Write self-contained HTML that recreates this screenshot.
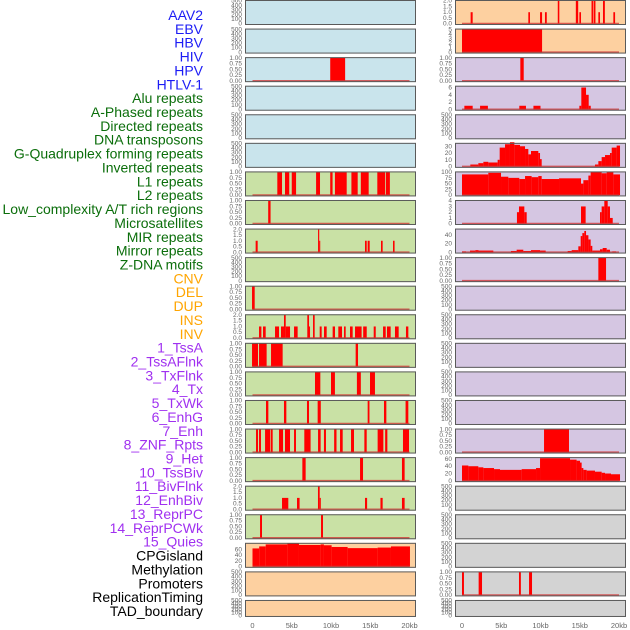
<!DOCTYPE html>
<html><head><meta charset="utf-8"><style>
html,body{margin:0;padding:0;background:#fff;}
svg{display:block;font-family:"Liberation Sans",sans-serif;}
</style></head><body>
<svg id="chart" width="630" height="630" viewBox="0 0 630 630" xmlns="http://www.w3.org/2000/svg"></svg>
<script>
// ---- labels ----
const labelNames = ["AAV2","EBV","HBV","HIV","HPV","HTLV-1","Alu repeats","A-Phased repeats","Directed repeats","DNA transposons","G-Quadruplex forming repeats","Inverted repeats","L1 repeats","L2 repeats","Low_complexity A/T rich regions","Microsatellites","MIR repeats","Mirror repeats","Z-DNA motifs","CNV","DEL","DUP","INS","INV","1_TssA","2_TssAFlnk","3_TxFlnk","4_Tx","5_TxWk","6_EnhG","7_Enh","8_ZNF_Rpts","9_Het","10_TssBiv","11_BivFlnk","12_EnhBiv","13_ReprPC","14_ReprPCWk","15_Quies","CPGisland","Methylation","Promoters","ReplicationTiming","TAD_boundary"];
const labelGroups = [6,13,5,15,5];
const groupColors = ["#1c1cf5","#0b6e0b","#ffa500","#a030f0","#000000"];
// ---- x axis ----
const xTicks = [0,5,10,15,20];
const xTickLabels = ["0","5kb","10kb","15kb","20kb"];
// ---- panel data: [startKb, endKb, value] ----
const dL3 = [[9.9,11.8,1]];
const dL7 = [[3.16,3.76,1],[4.14,4.68,1],[5.0,5.55,1],[8.1,8.6,1],[9.9,10.2,1],[10.5,12.0,1],[12.6,13.4,1],[13.8,14.8,1],[15.9,16.9,1],[17.0,17.5,1]];
const dL8 = [[2.0,2.3,1]];
const dL9 = [[0.4,0.66,1],[8.35,8.5,2],[8.5,8.62,1],[14.33,14.55,1],[14.67,14.93,1],[16.37,16.58,1],[17.9,18.1,1]];
const dL11 = [[-0.06,0.28,1]];
const dL12 = [[0.83,1.13,1],[1.34,1.68,1],[2.87,3.38,1],[3.63,4.01,1],[4.01,4.23,2],[4.23,4.78,1],[5.29,5.75,1],[6.98,7.2,2],[7.2,7.32,1],[7.71,7.92,2],[8.56,8.81,1],[9.11,9.45,1],[10.21,10.51,1],[10.93,11.4,1],[11.66,11.87,1],[12.42,12.76,1],[13.06,13.9,1],[14.1,14.55,1],[15.44,15.7,1],[16.63,16.97,1],[17.13,17.6,1],[18.15,18.62,1],[19.55,19.85,1]];
const dL13 = [[-0.06,0.7,1],[0.83,1.8,1],[2.36,3.84,1],[13.14,13.44,1]];
const dL14 = [[7.96,8.64,1],[10.0,10.5,1],[13.3,13.8,1],[14.97,15.6,1]];
const dL15 = [[1.72,2.02,1],[4.01,4.31,1],[6.94,7.2,1],[8.3,8.7,1],[14.67,14.9,1],[16.75,17.05,1],[19.5,19.85,1]];
const dL16 = [[0.45,0.7,1],[0.83,1.08,1],[1.6,2.23,1],[2.31,2.57,1],[3.38,3.89,1],[4.14,4.78,1],[5.29,5.54,1],[6.6,7.4,1],[8.35,8.68,1],[9.1,9.36,1],[10.4,10.7,1],[11.15,11.49,1],[12.55,12.93,1],[14.25,14.55,1],[15.94,16.67,1],[16.9,17.18,1],[19.17,19.94,1]];
const dL17 = [[6.35,6.77,1],[13.7,14.08,1],[19.04,19.38,1]];
const dL18 = [[3.76,4.56,1],[5.67,6.0,1],[8.34,8.56,2],[8.56,8.7,1],[14.33,14.6,1],[16.3,16.58,1],[19.04,19.38,1]];
const dL19 = [[0.96,1.21,1],[8.73,8.98,1]];
const dL20 = [[0,0.85,63],[0.85,1.68,70],[1.68,4.44,77],[4.44,5.92,80],[5.92,8.68,75],[8.68,9.1,77],[9.1,10.08,74],[10.08,12.12,68],[12.12,15.94,64],[15.94,17.64,66],[17.64,20.06,70]];
const dR1 = [[1.1,1.36,1],[8.45,8.66,1],[9.94,10.2,1],[10.57,10.8,1],[12.2,12.4,2],[14.5,14.8,2],[14.95,15.16,1],[16.5,16.7,2],[16.77,17.0,2],[17.37,17.58,1],[17.96,18.2,2],[19.28,19.5,1]];
const dR2 = [[0,10.2,5]];
const dR3 = [[7.43,7.86,1]];
const dR4 = [[0.3,1.36,1],[2.3,3.3,1],[7.3,8.15,1],[9.1,10.0,1],[14.95,15.2,1],[15.2,15.8,6],[15.8,16.14,4],[16.14,16.4,1]];
const dR6 = [[1.06,2.08,3],[2.08,2.72,5],[2.72,3.35,7],[3.35,4.54,6],[4.54,4.8,10],[4.8,5.48,28],[5.48,6.11,33],[6.11,6.67,36],[6.67,7.39,32],[7.39,8.03,30],[8.03,8.45,26],[8.45,8.79,18],[8.79,9.72,23],[9.72,9.94,20],[9.94,10.15,11],[16.94,17.37,3],[17.37,17.79,8],[17.79,18.22,14],[18.22,18.85,17],[18.85,19.07,20],[19.07,19.7,28],[19.7,20.13,31]];
const dR7 = [[0,3.35,90],[3.35,4.97,97],[4.97,5.9,80],[5.9,7.3,75],[7.3,8.03,70],[8.03,8.87,83],[8.87,9.72,78],[9.72,10.15,83],[10.15,12.36,70],[12.36,15.16,73],[15.16,15.46,50],[15.46,16.1,65],[16.1,16.39,85],[16.39,17.79,100],[17.79,18.43,95],[18.43,19.28,100],[19.28,20.13,90]];
const dR8 = [[7.0,7.26,2],[7.26,7.94,3],[7.94,8.24,2],[15.16,15.75,3],[17.58,17.79,2],[17.79,18.13,3],[18.13,18.56,4],[18.56,18.85,3],[18.85,19.2,1]];
const dR9 = [[0,0.51,2],[1.02,1.7,4],[1.7,2.1,5],[2.1,3.99,4],[6.24,6.96,3],[6.96,7.81,6],[7.81,8.79,3],[8.79,9.94,5],[9.94,10.66,4],[13.46,13.97,3],[13.97,14.82,5],[14.82,15.12,14],[15.12,15.33,38],[15.33,15.58,45],[15.58,15.8,50],[15.8,16.1,40],[16.1,16.39,30],[16.39,16.6,15],[16.6,17.58,4],[17.58,17.92,7],[17.92,18.43,10],[18.43,18.85,6],[19.15,19.62,2]];
const dR10 = [[17.37,18.35,1]];
const dR16 = [[10.45,13.63,1]];
const dR17 = [[0,0.81,42],[0.81,2.08,40],[2.08,2.72,37],[2.72,4.08,35],[4.08,4.84,32],[4.84,7.6,30],[7.6,9.43,32],[9.43,9.94,35],[9.94,13.76,62],[13.76,14.6,58],[14.6,15.03,55],[15.03,15.24,50],[15.24,15.46,35],[15.46,15.88,30],[15.88,16.94,28],[16.94,17.79,25],[17.79,18.22,22],[18.22,18.98,20],[18.98,20.13,18]];
const dR21 = [[0,0.25,1],[2.12,2.55,1],[7.26,7.5,1],[8.54,8.92,1]];
// tick label sets
const tEmpty = ["0","100","200","300","400","500"];
const t01 = ["0.00","0.25","0.50","0.75","1.00"];
const t02 = ["0.0","0.5","1.0","1.5","2.0"];
// panels: [data, ymax, tickVals, tickLabels, bg]
const B="#c9e4ec",G="#c9e1a5",O="#fdd0a0",P="#d5c6e2",Y="#d3d3d3";
const E=null;
const leftPanels = [
 [E,500,null,tEmpty,B],[E,500,null,tEmpty,B],[dL3,1,null,t01,B],[E,500,null,tEmpty,B],[E,500,null,tEmpty,B],[E,500,null,tEmpty,B],
 [dL7,1,null,t01,G],[dL8,1,null,t01,G],[dL9,2,null,t02,G],[E,500,null,tEmpty,G],[dL11,1,null,t01,G],[dL12,2,null,t02,G],[dL13,1,null,t01,G],[dL14,1,null,t01,G],[dL15,1,null,t01,G],[dL16,1,null,t01,G],[dL17,1,null,t01,G],[dL18,2,null,t02,G],[dL19,1,null,t01,G],
 [dL20,80,[0,20,40,60],["0","20","40","60"],O],[E,500,null,tEmpty,O],[E,500,null,tEmpty,O]
];
const rightPanels = [
 [dR1,2,null,t02,O],[dR2,5,[0,1,2,3,4,5],["0","1","2","3","4","5"],O],
 [dR3,1,null,t01,P],[dR4,6.3,[0,2,4,6],["0","2","4","6"],P],[E,500,null,tEmpty,P],[dR6,34,[0,10,20,30],["0","10","20","30"],P],[dR7,100,[0,25,50,75,100],["0","25","50","75","100"],P],[dR8,4,[0,1,2,3,4],["0","1","2","3","4"],P],[dR9,54,[0,20,40],["0","20","40"],P],[dR10,1,null,t01,P],
 [E,500,null,tEmpty,P],[E,500,null,tEmpty,P],[E,500,null,tEmpty,P],[E,500,null,tEmpty,P],[E,500,null,tEmpty,P],[dR16,1,null,t01,P],[dR17,63,[0,20,40,60],["0","20","40","60"],P],
 [E,500,null,tEmpty,Y],[E,500,null,tEmpty,Y],[E,500,null,tEmpty,Y],[dR21,1,null,t01,Y],[E,500,null,tEmpty,Y]
];

const NS="http://www.w3.org/2000/svg";
const svg=document.getElementById('chart');
function mk(tag,attrs,parent){const e=document.createElementNS(NS,tag);for(const k in attrs)e.setAttribute(k,attrs[k]);(parent||svg).appendChild(e);return e;}

// labels
let li=0;
labelGroups.forEach((n,g)=>{for(let k=0;k<n;k++){
  const t=mk('text',{x:203,y:(20+li*13.86).toFixed(1),'text-anchor':'end','font-size':'14',fill:groupColors[g]});
  t.textContent=labelNames[li];
  
  
  li++;}});

function drawColumn(panels,colX,zeroX,colName){
  const W=171,kbPx=7.85;
  const xs=kb=>zeroX+kb*kbPx;
  panels.forEach((p,i)=>{
    const [data,ymax,tv,tl,bg]=p;
    const top=i*28.57, h=(i===21)?17:25;
    const g=mk('g',{});
    
    
    mk('rect',{x:colX,y:top,width:W,height:h,fill:bg},g);
    const ys=v=>top+h-1.3-v/ymax*(h-2);
    const vals=tv||tl.map((s,k)=>ymax*k/(tl.length-1));
    tl.forEach((s,k)=>{
      const t=mk('text',{x:colX-3,y:(ys(vals[k])+2).toFixed(1),'text-anchor':'end','font-size':'6.5',fill:'#666'},g);
      t.textContent=s;
      
      
    });
    if(data){
      data.forEach(d=>{
        const x1=Math.max(xs(d[0]),colX+0.5),x2=Math.min(xs(d[1]),colX+W-0.5);
        const r=mk('rect',{x:x1.toFixed(2),y:ys(d[2]).toFixed(2),width:Math.max(x2-x1,1).toFixed(2),height:(ys(0)-ys(d[2])).toFixed(2),fill:'#ff0000'},g);
        
        
      });
      const bl=mk('line',{x1:xs(0),x2:xs(20),y1:ys(0),y2:ys(0),stroke:'#d23030','stroke-opacity':'0.75','stroke-width':'1.8'},g);
      
      
    }
    mk('rect',{x:colX+0.5,y:top+0.5,width:W-1,height:h-1,fill:'none',stroke:'#5a5a5a','stroke-width':'1'},g);
  });
  xTicks.forEach((v,k)=>{
    const t=mk('text',{x:xs(v),y:628,'text-anchor':'middle','font-size':'7.5',fill:'#666'});
    t.textContent=xTickLabels[k];
    
    
  });
}
drawColumn(leftPanels,245,252.5,'left');
drawColumn(rightPanels,455,462,'right');
</script>
</body></html>
